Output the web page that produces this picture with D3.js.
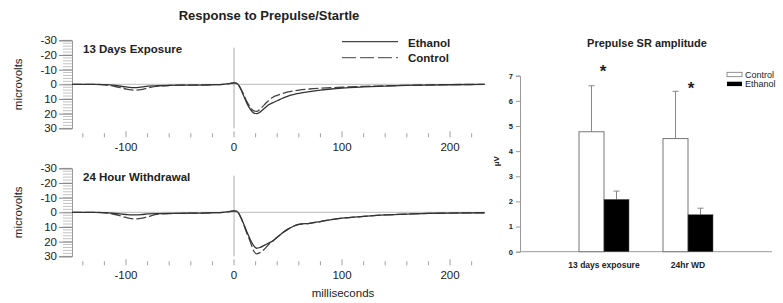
<!DOCTYPE html>
<html>
<head>
<meta charset="utf-8">
<script src="https://cdn.jsdelivr.net/npm/d3@7"></script>
<style>
  body { margin: 0; background: #fff; }
  svg text { font-family: "Liberation Sans", Arial, sans-serif; fill: #222; }
</style>
</head>
<body>
<div id="chart"></div>
<script>
// time points (ms) shared by all traces
const times = [-150, -130, -120, -110, -100, -95, -90, -85, -80, -70, -60, -50, -40, -30, -20, -10, -5, 0, 3, 6, 9, 12, 15, 18, 21, 24, 28, 32, 36, 40, 45, 50, 55, 60, 70, 80, 90, 100, 120, 140, 160, 180, 200, 232];

// 13 days exposure (microvolts, positive = down)
const exposureEthanol = [0, 0, 0.2, 0.8, 1.8, 2.2, 2.2, 1.8, 1.2, 1.0, 0.8, 0.6, 0.5, 0.5, 0.3, 0, -0.5, -1, -0.5, 3, 8, 13, 17, 19.5, 20, 19, 16.5, 14, 12.5, 11.2, 9.5, 8, 7, 6.2, 5, 4, 3.2, 2.6, 1.8, 1.2, 0.8, 0.5, 0.3, 0.1];
const exposureControl = [0, 0, 0.3, 1.5, 3.2, 3.8, 4, 3.5, 2.5, 1.2, 0.8, 0.6, 0.5, 0.4, 0.3, 0, -0.5, -1, -0.6, 2.5, 7, 12, 15.5, 18, 18.5, 17, 14, 11, 8.8, 7.5, 6.2, 5.2, 4.5, 3.9, 3.2, 2.7, 2.3, 2, 1.4, 1, 0.7, 0.4, 0.2, 0.1];

// 24 hour withdrawal
const withdrawalEthanol = [0, 0, 0.2, 0.8, 1.5, 1.8, 1.8, 1.5, 1.1, 0.9, 0.8, 0.7, 0.6, 0.5, 0.3, 0, -0.5, -1, -0.5, 3, 8, 13.5, 18.5, 22.5, 24.5, 24, 22.5, 21, 19.5, 17, 14, 11.5, 9.5, 8.3, 7.5, 6.3, 5, 4, 2.8, 1.8, 1.2, 0.8, 0.5, 0.3];
const withdrawalControl = [0, 0, 0.3, 1.5, 3.5, 4.3, 4.5, 4, 3, 1.3, 0.9, 0.7, 0.6, 0.5, 0.3, 0, -0.5, -1, -0.5, 3, 8.5, 14.5, 20, 26, 28.3, 27.5, 25.2, 22, 19.5, 17, 14, 11.5, 9.5, 8.3, 7.5, 6.3, 5, 4, 2.8, 1.8, 1.2, 0.8, 0.5, 0.3];

// bar chart
const groups = ["13 days exposure", "24hr WD"];
const controlMeans = [4.77, 4.5];
const controlErr = [1.83, 1.88];
const ethanolMeans = [2.08, 1.47];
const ethanolErr = [0.33, 0.26];
const barTicks = [0, 1, 2, 3, 4, 5, 6, 7];

const svg = d3.select("#chart").append("svg")
  .attr("width", 783)
  .attr("height", 303);

// ---------- left: response traces ----------
const x = d3.scaleLinear().domain([-150, 232]).range([72, 484.6]);

svg.append("text")
  .attr("x", 269).attr("y", 19.5)
  .attr("text-anchor", "middle")
  .style("font-size", "13px").style("font-weight", "bold")
  .text("Response to Prepulse/Startle");

function drawPanel(top, label, ethanol, control) {
  const y = d3.scaleLinear().domain([-30, 30]).range([top, top + 88]);
  const g = svg.append("g");

  // minor y ticks
  g.append("g")
    .selectAll("line")
    .data(d3.range(-30, 31, 2))
    .join("line")
    .attr("x1", 63).attr("x2", 72)
    .attr("y1", d => y(d)).attr("y2", d => y(d))
    .attr("stroke", "#999").attr("stroke-width", 0.6);

  // major y ticks + labels
  const yAxis = g.append("g")
    .attr("transform", "translate(72,0)")
    .call(d3.axisLeft(y).tickValues([-30, -20, -10, 0, 10, 20, 30]).tickSize(13).tickPadding(2).tickFormat(d => String(d)));
  yAxis.select(".domain").attr("stroke", "#999");
  yAxis.selectAll(".tick line").attr("stroke", "#888");
  yAxis.selectAll("text").style("font-size", "11.5px").attr("fill", "#222")
    .style("font-family", "'Liberation Sans', Arial, sans-serif");

  // x ticks
  const tickY = top + 92;
  g.append("g")
    .selectAll("line")
    .data(d3.range(-140, 232, 20))
    .join("line")
    .attr("x1", d => x(d)).attr("x2", d => x(d))
    .attr("y1", d => d % 100 === 0 ? tickY - 1 : tickY + 1)
    .attr("y2", tickY + 5)
    .attr("stroke", "#888").attr("stroke-width", 0.8);

  g.append("g")
    .selectAll("text")
    .data([-100, 0, 100, 200])
    .join("text")
    .attr("x", d => x(d)).attr("y", tickY + 19)
    .attr("text-anchor", "middle")
    .style("font-size", "11.5px")
    .text(d => String(d));

  // zero line and stimulus line
  g.append("line")
    .attr("x1", x(-150)).attr("x2", x(232))
    .attr("y1", y(0)).attr("y2", y(0))
    .attr("stroke", "#aaa").attr("stroke-width", 0.8);
  g.append("line")
    .attr("x1", x(0)).attr("x2", x(0))
    .attr("y1", y(-25)).attr("y2", y(30))
    .attr("stroke", "#aaa").attr("stroke-width", 1);

  const line = d3.line()
    .x((d, i) => x(times[i]))
    .y(d => y(d))
    .curve(d3.curveMonotoneX);

  g.append("path")
    .datum(control)
    .attr("fill", "none")
    .attr("stroke", "#444")
    .attr("stroke-width", 1.3)
    .attr("stroke-dasharray", "10,3")
    .attr("d", line);

  g.append("path")
    .datum(ethanol)
    .attr("fill", "none")
    .attr("stroke", "#333")
    .attr("stroke-width", 1.3)
    .attr("d", line);

  g.append("text")
    .attr("x", 83).attr("y", top + 13)
    .style("font-size", "11.5px").style("font-weight", "bold")
    .text(label);

  g.append("text")
    .attr("transform", `translate(22,${y(0)}) rotate(-90)`)
    .attr("text-anchor", "middle")
    .style("font-size", "11.5px")
    .text("microvolts");
}

drawPanel(40.3, "13 Days Exposure", exposureEthanol, exposureControl);
drawPanel(168.3, "24 Hour Withdrawal", withdrawalEthanol, withdrawalControl);

svg.append("text")
  .attr("x", 343).attr("y", 297)
  .attr("text-anchor", "middle")
  .style("font-size", "11.5px")
  .text("milliseconds");

// legend
const leg = svg.append("g");
leg.append("line")
  .attr("x1", 342).attr("x2", 398).attr("y1", 41.7).attr("y2", 41.7)
  .attr("stroke", "#444").attr("stroke-width", 1.3);
leg.append("line")
  .attr("x1", 342).attr("x2", 398).attr("y1", 57.7).attr("y2", 57.7)
  .attr("stroke", "#666").attr("stroke-width", 1.3).attr("stroke-dasharray", "14,4");
leg.append("text").attr("x", 408).attr("y", 46.5)
  .style("font-size", "11.5px").style("font-weight", "bold").text("Ethanol");
leg.append("text").attr("x", 408).attr("y", 61.5)
  .style("font-size", "11.5px").style("font-weight", "bold").text("Control");

// ---------- right: bar chart ----------
const xb = d3.scalePoint().domain(groups).range([520, 772]).padding(1);
const yb = d3.scaleLinear().domain([0, 7]).range([251.7, 75.7]);
const bw = 25;

svg.append("text")
  .attr("x", 647).attr("y", 46.5)
  .attr("text-anchor", "middle")
  .style("font-size", "11px").style("font-weight", "bold")
  .text("Prepulse SR amplitude");

const yAxisB = svg.append("g")
  .attr("transform", "translate(520,0)")
  .call(d3.axisLeft(yb).tickValues(barTicks).tickSize(4).tickPadding(3).tickFormat(d => String(d)));
yAxisB.select(".domain").attr("stroke", "#999");
yAxisB.selectAll(".tick line").attr("stroke", "#999");
yAxisB.selectAll("text").style("font-size", "7.5px").style("font-weight", "bold")
  .attr("fill", "#222").style("font-family", "'Liberation Sans', Arial, sans-serif");

svg.append("line")
  .attr("x1", 520).attr("x2", 772).attr("y1", yb(0)).attr("y2", yb(0))
  .attr("stroke", "#999").attr("stroke-width", 1);

svg.append("text")
  .attr("transform", `translate(499,${yb(3.6)}) rotate(-90)`)
  .attr("text-anchor", "middle")
  .style("font-size", "8px").style("font-weight", "bold")
  .text("μV");

// error bars (drawn first so bars sit over them)
function errBar(cx, mean, err) {
  svg.append("line")
    .attr("x1", cx).attr("x2", cx).attr("y1", yb(mean)).attr("y2", yb(mean + err))
    .attr("stroke", "#888").attr("stroke-width", 1);
  svg.append("line")
    .attr("x1", cx - 3).attr("x2", cx + 3).attr("y1", yb(mean + err)).attr("y2", yb(mean + err))
    .attr("stroke", "#888").attr("stroke-width", 1);
}

groups.forEach((g, i) => {
  const c = xb(g);
  errBar(c - bw / 2, controlMeans[i], controlErr[i]);
  errBar(c + bw / 2, ethanolMeans[i], ethanolErr[i]);
  svg.append("rect")
    .attr("x", c - bw).attr("y", yb(controlMeans[i]))
    .attr("width", bw).attr("height", yb(0) - yb(controlMeans[i]))
    .attr("fill", "#fff").attr("stroke", "#777").attr("stroke-width", 1);
  svg.append("rect")
    .attr("x", c).attr("y", yb(ethanolMeans[i]))
    .attr("width", bw).attr("height", yb(0) - yb(ethanolMeans[i]))
    .attr("fill", "#000").attr("stroke", "#555").attr("stroke-width", 0.5);
  svg.append("text")
    .attr("x", c).attr("y", 268)
    .attr("text-anchor", "middle")
    .style("font-size", "8.5px").style("font-weight", "bold")
    .text(g);
});

// significance stars
svg.append("text").attr("x", 603).attr("y", 77)
  .attr("text-anchor", "middle").style("font-size", "17px").style("font-weight", "bold").text("*");
svg.append("text").attr("x", 691).attr("y", 94)
  .attr("text-anchor", "middle").style("font-size", "17px").style("font-weight", "bold").text("*");

// bar legend
svg.append("rect").attr("x", 727).attr("y", 72.3).attr("width", 15).attr("height", 4.4)
  .attr("fill", "#fff").attr("stroke", "#777").attr("stroke-width", 0.8);
svg.append("rect").attr("x", 727).attr("y", 81.7).attr("width", 15).attr("height", 4.4)
  .attr("fill", "#000");
svg.append("text").attr("x", 745).attr("y", 77.5).style("font-size", "9px").text("Control");
svg.append("text").attr("x", 745).attr("y", 87).style("font-size", "9px").text("Ethanol");
</script>
</body>
</html>
